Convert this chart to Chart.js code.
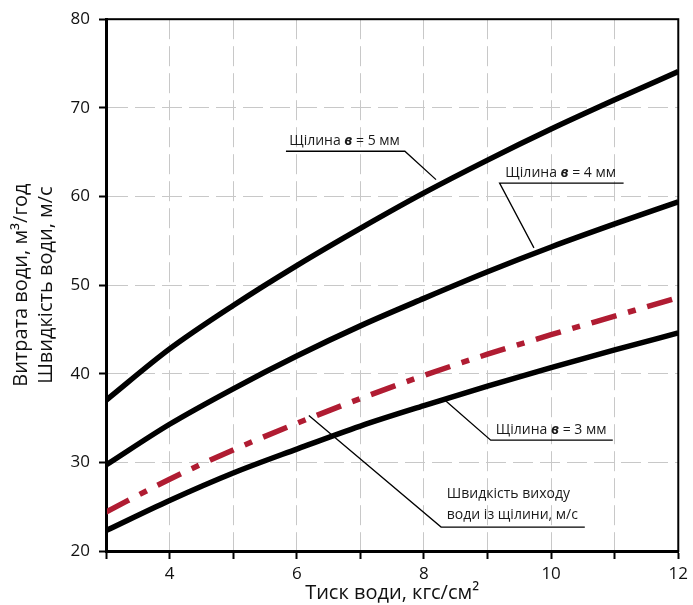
<!DOCTYPE html>
<html>
<head>
<meta charset="utf-8">
<script src="https://cdn.jsdelivr.net/npm/chart.js@4.4.0/dist/chart.umd.min.js"></script>
<style>
  html, body { margin: 0; padding: 0; background: #fff; }
  #wrap { width: 693px; height: 605px; }
</style>
</head>
<body>
<div id="wrap"><canvas id="grafik"></canvas></div>
<script>
// тиск води, кгс/см2
const tysk = [3, 4, 5, 6, 7, 8, 9, 10, 11, 12];
// витрата води, м3/год
const shchilyna5 = [37.0, 42.8, 47.7, 52.2, 56.4, 60.4, 64.1, 67.6, 70.9, 74.1];
const shchilyna4 = [29.7, 34.3, 38.3, 42.0, 45.4, 48.5, 51.5, 54.3, 56.9, 59.4];
const shchilyna3 = [22.3, 25.7, 28.8, 31.5, 34.1, 36.4, 38.6, 40.7, 42.7, 44.6];
// швидкість виходу води, м/с
const shvydkist = [24.4, 28.1, 31.4, 34.4, 37.2, 39.8, 42.2, 44.4, 46.5, 48.6];

const yTicks = [20, 30, 40, 50, 60, 70, 80];
const xLabels = [4, 6, 8, 10, 12];

const tekstFont = '"Open Sans", "DejaVu Sans", sans-serif';

// підписи з виносками (координати в одиницях осей)
const pidpysy = [
  { rows: [['Щілина ', 'в', ' = 5 мм']], x: 5.88, y: [65.85], line: [[5.83, 65.1], [7.70, 65.1], [8.19, 61.9]] },
  { rows: [['Щілина ', 'в', ' = 4 мм']], x: 9.28, y: [62.15], line: [[11.14, 61.5], [9.19, 61.5], [9.73, 54.2]] },
  { rows: [['Щілина ', 'в', ' = 3 мм']], x: 9.13, y: [33.2], line: [[10.97, 32.5], [9.05, 32.5], [8.30, 37.2]] },
  { rows: [['Швидкість виходу'], ['води із щілини, м/с']], x: 8.36, y: [25.95, 23.6], line: [[10.53, 22.7], [8.27, 22.7], [6.19, 35.3]] }
];

function toPoints(ys) {
  return tysk.map((x, i) => ({ x: x, y: ys[i] }));
}

const ramkaPlugin = {
  id: 'ramka',
  afterDatasetsDraw(chart) {
    const ctx = chart.ctx;
    const a = chart.chartArea;
    const sx = chart.scales.x;
    const sy = chart.scales.y;
    ctx.save();
    ctx.strokeStyle = '#000';
    ctx.lineWidth = 2;
    ctx.strokeRect(a.left, a.top, a.right - a.left, a.bottom - a.top);

    pidpysy.forEach(p => {
      ctx.beginPath();
      ctx.lineWidth = 1.3;
      p.line.forEach((pt, i) => {
        const px = sx.getPixelForValue(pt[0]);
        const py = sy.getPixelForValue(pt[1]);
        if (i === 0) ctx.moveTo(px, py); else ctx.lineTo(px, py);
      });
      ctx.stroke();

      ctx.fillStyle = '#1a1a1a';
      ctx.textBaseline = 'alphabetic';
      ctx.textAlign = 'left';
      p.rows.forEach((parts, r) => {
        let px = sx.getPixelForValue(p.x);
        const py = sy.getPixelForValue(p.y[r]);
        parts.forEach((t, k) => {
          ctx.font = (k === 1 ? 'italic bold 14px ' : '14px ') + tekstFont;
          ctx.fillText(t, px, py);
          px += ctx.measureText(t).width;
        });
      });
    });
    ctx.restore();
  }
};

const ctx = document.getElementById('grafik').getContext('2d');
new Chart(ctx, {
  type: 'line',
  data: {
    datasets: [
      { label: 'Щілина в = 5 мм', data: toPoints(shchilyna5), borderColor: '#000', borderWidth: 5.5 },
      { label: 'Щілина в = 4 мм', data: toPoints(shchilyna4), borderColor: '#000', borderWidth: 5.5 },
      { label: 'Щілина в = 3 мм', data: toPoints(shchilyna3), borderColor: '#000', borderWidth: 5.5 },
      { label: 'Швидкість виходу води із щілини, м/с', data: toPoints(shvydkist), borderColor: '#b01c32', borderWidth: 5.5, borderDash: [26, 12, 8, 12] }
    ]
  },
  options: {
    responsive: true,
    maintainAspectRatio: false,
    animation: false,
    layout: { padding: { top: 14, right: 11, left: 0, bottom: 0 } },
    elements: {
      point: { radius: 0 },
      line: { tension: 0.4, cubicInterpolationMode: 'monotone', borderCapStyle: 'butt' }
    },
    plugins: {
      legend: { display: false },
      tooltip: { enabled: false }
    },
    scales: {
      x: {
        type: 'linear',
        min: 3,
        max: 12,
        afterFit: s => { s.height = 54; },
        afterBuildTicks: s => { s.ticks = tysk.map(v => ({ value: v })); },
        ticks: {
          autoSkip: false,
          maxRotation: 0,
          padding: 5,
          color: '#111',
          font: { family: tekstFont, size: 17 },
          callback: v => xLabels.includes(v) ? String(v) : ''
        },
        grid: {
          color: '#c8c8c8',
          lineWidth: 1,
          tickLength: 8,
          tickColor: '#000',
          tickWidth: 2,
          tickBorderDash: []
        },
        border: { display: true, color: '#000', width: 3, dash: [20, 7] },
        title: {
          display: true,
          text: 'Тиск води, кгс/см²',
          color: '#111',
          font: { family: tekstFont, size: 20 },
          padding: { top: 0, bottom: 0 }
        }
      },
      y: {
        min: 20,
        max: 80,
        afterFit: s => { s.width = 106; },
        afterBuildTicks: s => { s.ticks = yTicks.map(v => ({ value: v })); },
        ticks: {
          padding: 9,
          color: '#111',
          font: { family: tekstFont, size: 17 }
        },
        grid: {
          color: '#c8c8c8',
          lineWidth: 1,
          tickLength: 7,
          tickColor: '#000',
          tickWidth: 2,
          tickBorderDash: []
        },
        border: { display: true, color: '#000', width: 3, dash: [20, 7] },
        title: {
          display: true,
          text: ['Витрата води, м³/год', 'Швидкість води, м/с'],
          color: '#111',
          font: { family: tekstFont, size: 20, lineHeight: 1.25 },
          padding: { top: 9, bottom: 0 }
        }
      }
    }
  },
  plugins: [ramkaPlugin]
});
</script>
</body>
</html>
